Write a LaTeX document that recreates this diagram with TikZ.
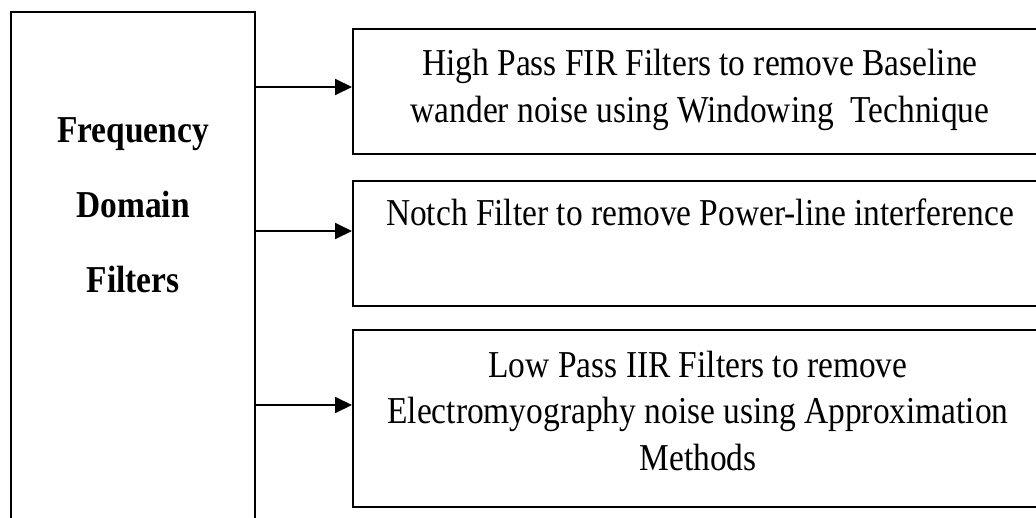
\documentclass[tikz,border=0pt]{standalone}
\usepackage{fontspec}
\setmainfont{Liberation Serif}[FakeStretch=0.88]
\usetikzlibrary{arrows.meta}
\tikzset{
  frame/.style={draw=black, line width=2pt, inner sep=0pt, anchor=north west},
  arr/.style={draw=black, line width=2pt, -{Triangle[length=17pt,width=16pt]}},
  body/.style={font=\fontsize{38}{46.5}\selectfont, align=center, anchor=base, inner sep=0pt},
  head/.style={font=\fontsize{38}{75}\selectfont\bfseries, align=center, anchor=base, inner sep=0pt},
}
\begin{document}
\begin{tikzpicture}[x=1pt, y=1pt]
  \useasboundingbox (0,0) rectangle (1036,-517);
  \clip (0,0) rectangle (1036,-517);
  \fill[white] (0,0) rectangle (1036,-517);

  % category box on the left, running off the bottom edge
  \node[frame, minimum width=244pt, minimum height=600pt] (src) at (10,-11) {};
  % anchor=base of a multi-line node sits on its last line
  \node[head] (srctxt) at (133,-292) {Frequency\\Domain\\Filters};

  % filter boxes on the right, running off the right edge
  \node[frame, minimum width=720pt, minimum height=125pt] (b1) at (352,-28) {};
  \node[frame, minimum width=720pt, minimum height=125pt] (b2) at (352,-180) {};
  \node[frame, minimum width=720pt, minimum height=177pt] (b3) at (352,-329) {};

  \node[body] (t1) at (700,-122) {High Pass FIR Filters to remove Baseline\\wander noise using Windowing\ \ Technique};
  \node[body] (t2) at (700,-225) {Notch Filter to remove Power-line interference};
  \node[body] (t3) at (698,-470) {Low Pass IIR Filters to remove\\Electromyography noise using Approximation\\Methods};

  % connectors
  \coordinate (y1) at (0,-87);
  \coordinate (y2) at (0,-231);
  \coordinate (y3) at (0,-405);
  \draw[arr] (src.east |- y1) -- (b1.west |- y1);
  \draw[arr] (src.east |- y2) -- (b2.west |- y2);
  \draw[arr] (src.east |- y3) -- (b3.west |- y3);
\end{tikzpicture}
\end{document}
